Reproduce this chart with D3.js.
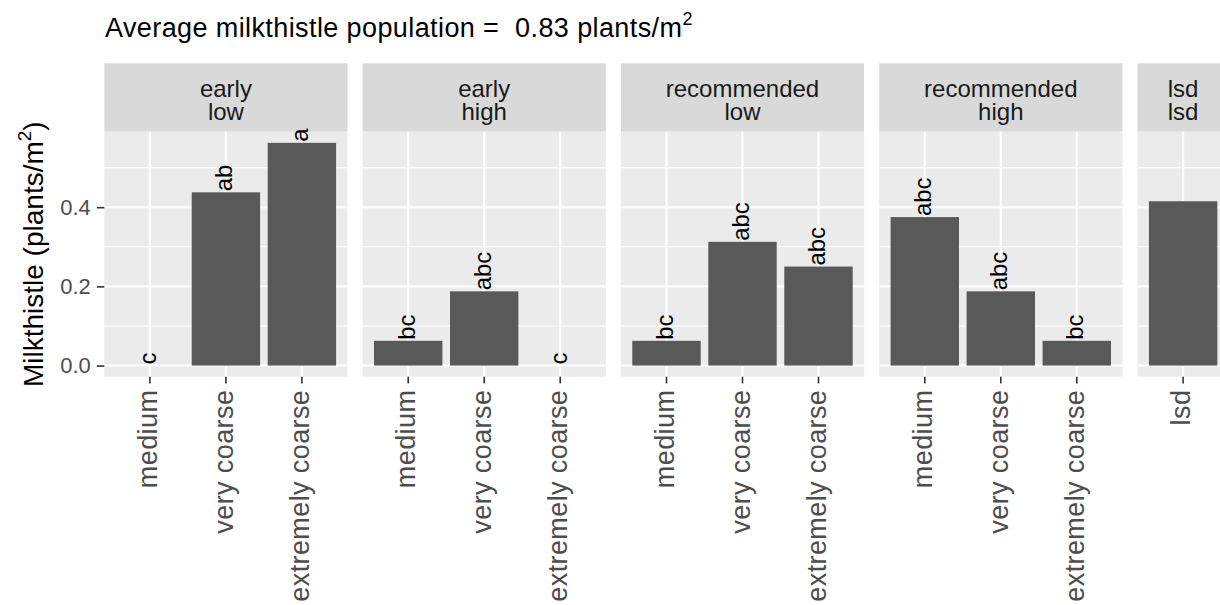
<!DOCTYPE html>
<html lang="en">
<head>
    <meta charset="UTF-8">
    <title>Milkthistle population</title>
    <script src="https://d3js.org/d3.v7.min.js"></script>
    <style>
        body {
            margin: 0;
            background: #fff;
            font-family: "Liberation Sans", Arial, sans-serif;
        }
        svg text {
            white-space: pre;
        }
    </style>
</head>
<body>
    <div id="chart"></div>
    <script>
        // facet labels (two strip lines per panel)
        const timing = ["early", "early", "recommended", "recommended", "lsd"];
        const rate = ["low", "high", "low", "high", "lsd"];

        // x categories
        const sizes = ["medium", "very coarse", "extremely coarse"];
        const lsdCats = ["lsd"];

        // bar heights (plants/m2)
        const earlyLow = [0, 0.4375, 0.5625];
        const earlyHigh = [0.0625, 0.1875, 0];
        const recLow = [0.0625, 0.3125, 0.25];
        const recHigh = [0.375, 0.1875, 0.0625];
        const lsdValue = [0.415];

        // letters above bars
        const earlyLowLetters = ["c", "ab", "a"];
        const earlyHighLetters = ["bc", "abc", "c"];
        const recLowLetters = ["bc", "abc", "abc"];
        const recHighLetters = ["abc", "abc", "bc"];
        const lsdLetters = [""];

        const yTicks = [0, 0.2, 0.4];
        const yMinor = [0.1, 0.3, 0.5];
        const avgPop = "0.83";

        const panels = [
            { cats: sizes, values: earlyLow, letters: earlyLowLetters },
            { cats: sizes, values: earlyHigh, letters: earlyHighLetters },
            { cats: sizes, values: recLow, letters: recLowLetters },
            { cats: sizes, values: recHigh, letters: recHighLetters },
            { cats: lsdCats, values: lsdValue, letters: lsdLetters }
        ].map((p, i) => ({ ...p, top: timing[i], bottom: rate[i] }));

        const W = 1220, H = 605;
        const plotLeft = 104.3;
        const unit = 76;        // px per discrete x unit
        const gap = 15.1;       // panel spacing
        const stripTop = 63.3;
        const panelTop = 131.7;
        const panelBottom = 376.7;

        const svg = d3.select("#chart")
            .append("svg")
            .attr("width", W)
            .attr("height", H);

        svg.append("rect").attr("width", W).attr("height", H).attr("fill", "#fff");

        const yMax = d3.max(panels.flatMap(p => p.values));
        const y = d3.scaleLinear()
            .domain([-0.05 * yMax, 1.05 * yMax])
            .range([panelBottom, panelTop]);

        // title
        const title = svg.append("text")
            .attr("x", 105)
            .attr("y", 37)
            .attr("font-size", 27)
            .attr("letter-spacing", 0.4)
            .attr("fill", "#000")
            .text(`Average milkthistle population =  ${avgPop} plants/m`);
        title.append("tspan").attr("font-size", 18).attr("dy", -12).text("2");

        // y axis title
        const yTitle = svg.append("text")
            .attr("transform", `translate(43,${(panelTop + panelBottom) / 2}) rotate(-90)`)
            .attr("text-anchor", "middle")
            .attr("font-size", 28)
            .attr("fill", "#000")
            .text("Milkthistle (plants/m");
        yTitle.append("tspan").attr("font-size", 19).attr("dy", -12).text("2");
        yTitle.append("tspan").attr("font-size", 28).attr("dy", 12).text(")");

        let x0 = plotLeft;
        panels.forEach((p, i) => {
            const w = (p.cats.length + 0.2) * unit;
            const x = d3.scaleBand()
                .domain(p.cats)
                .range([x0, x0 + w])
                .paddingInner(0.1)
                .paddingOuter(0.15);
            const cx = c => x(c) + x.bandwidth() / 2;

            const g = svg.append("g");

            // strip
            g.append("rect")
                .attr("x", x0).attr("y", stripTop)
                .attr("width", w).attr("height", panelTop - stripTop)
                .attr("fill", "#D9D9D9");
            const strip = g.append("text")
                .attr("y", 97)
                .attr("text-anchor", "middle")
                .attr("font-size", 24)
                .attr("fill", "#1A1A1A");
            strip.selectAll("tspan")
                .data([p.top, p.bottom])
                .join("tspan")
                .attr("x", x0 + w / 2)
                .attr("dy", (d, j) => j === 0 ? 0 : 23)
                .text(d => d);

            // panel background
            g.append("rect")
                .attr("x", x0).attr("y", panelTop)
                .attr("width", w).attr("height", panelBottom - panelTop)
                .attr("fill", "#EBEBEB");

            g.selectAll(".minor")
                .data(yMinor)
                .join("line")
                .attr("x1", x0).attr("x2", x0 + w)
                .attr("y1", d => y(d)).attr("y2", d => y(d))
                .attr("stroke", "#fff").attr("stroke-width", 1.1);

            g.selectAll(".major")
                .data(yTicks)
                .join("line")
                .attr("x1", x0).attr("x2", x0 + w)
                .attr("y1", d => y(d)).attr("y2", d => y(d))
                .attr("stroke", "#fff").attr("stroke-width", 2.1);

            g.selectAll(".vgrid")
                .data(p.cats)
                .join("line")
                .attr("x1", cx).attr("x2", cx)
                .attr("y1", panelTop).attr("y2", panelBottom)
                .attr("stroke", "#fff").attr("stroke-width", 2.1);

            // bars
            g.selectAll(".bar")
                .data(p.cats)
                .join("rect")
                .attr("x", c => x(c))
                .attr("width", x.bandwidth())
                .attr("y", (c, j) => y(p.values[j]))
                .attr("height", (c, j) => y(0) - y(p.values[j]))
                .attr("fill", "#595959");

            // letters
            g.selectAll(".lbl")
                .data(p.cats)
                .join("text")
                .attr("transform", (c, j) => `translate(${cx(c)},${y(p.values[j]) - 1}) rotate(-90)`)
                .attr("dy", "0.27em")
                .attr("text-anchor", "start")
                .attr("font-size", 24)
                .attr("fill", "#000")
                .text((c, j) => p.letters[j]);

            // x axis
            const xa = svg.append("g")
                .attr("transform", `translate(0,${panelBottom})`)
                .call(d3.axisBottom(x).tickSize(6.7).tickPadding(0));
            xa.select(".domain").remove();
            xa.selectAll(".tick line").attr("stroke", "#333").attr("stroke-width", 1.6);
            xa.selectAll(".tick text")
                .attr("transform", "rotate(-90)")
                .attr("x", -13)
                .attr("y", 0)
                .attr("dy", "0.27em")
                .attr("text-anchor", "end")
                .attr("font-size", 27)
                .attr("letter-spacing", 0.4)
                .attr("font-family", "Liberation Sans, Arial, sans-serif")
                .attr("fill", "#4D4D4D");

            // y axis on first panel
            if (i === 0) {
                const ya = svg.append("g")
                    .attr("transform", `translate(${x0},0)`)
                    .call(d3.axisLeft(y).tickValues(yTicks).tickFormat(d3.format(".1f")).tickSize(7.5).tickPadding(6));
                ya.select(".domain").remove();
                ya.selectAll(".tick line").attr("stroke", "#333").attr("stroke-width", 1.6);
                ya.selectAll(".tick text")
                    .attr("font-size", 22)
                    .attr("font-family", "Liberation Sans, Arial, sans-serif")
                    .attr("fill", "#4D4D4D");
            }

            x0 += w + gap;
        });
    </script>
</body>
</html>
